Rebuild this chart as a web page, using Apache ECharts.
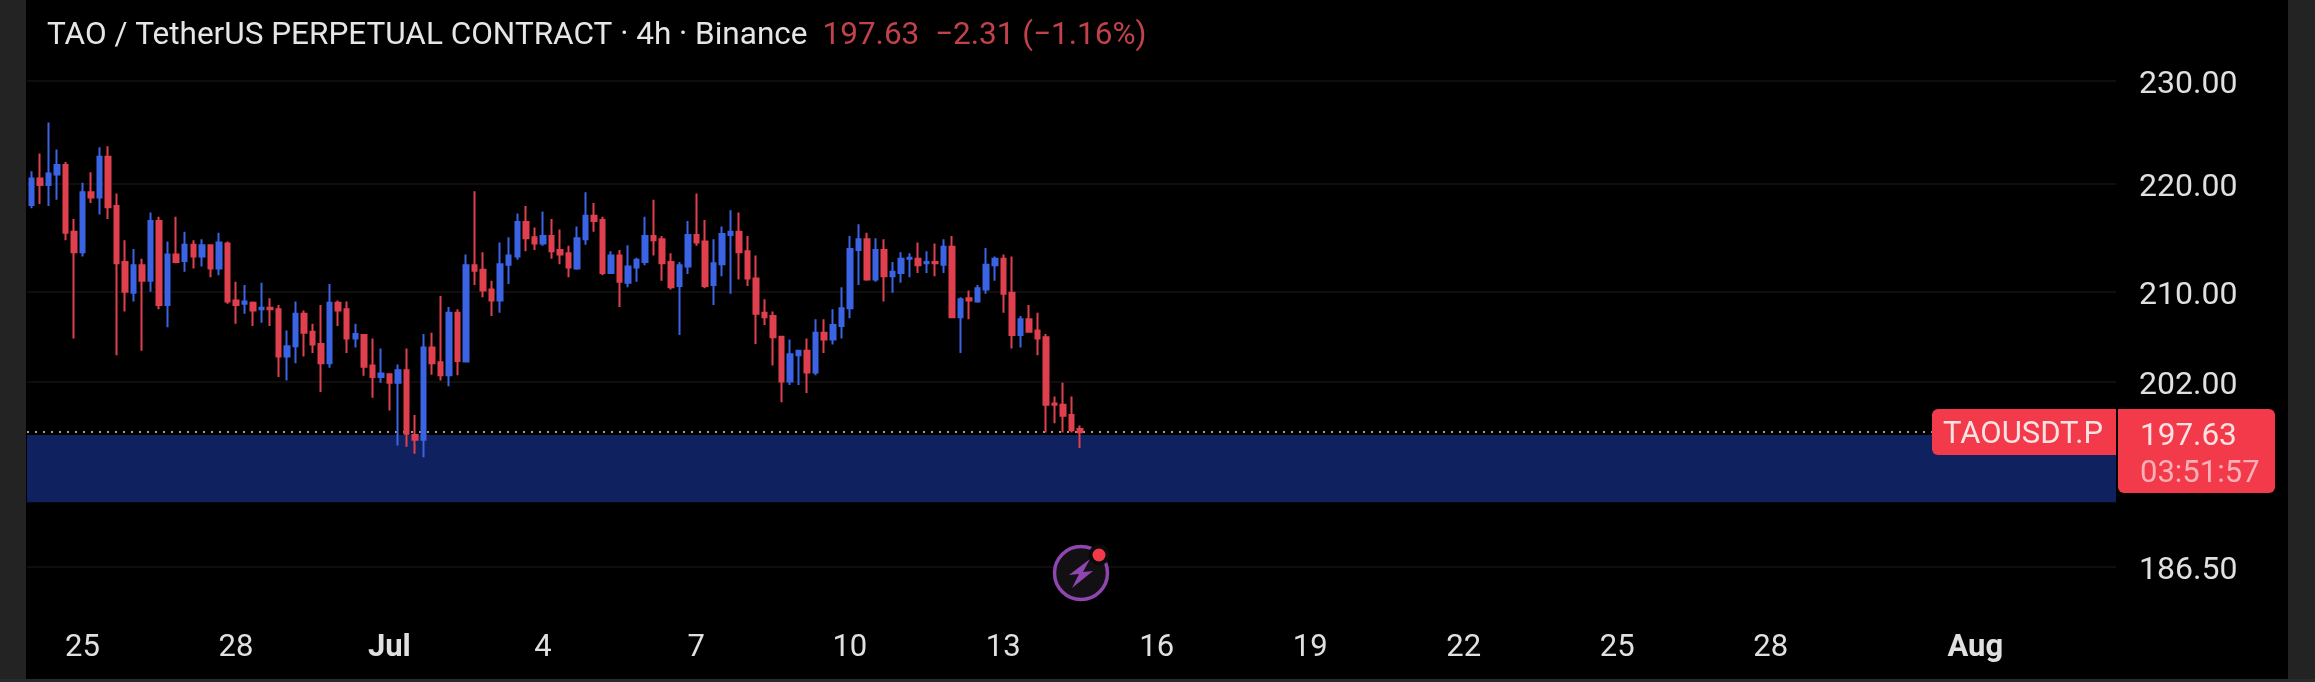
<!DOCTYPE html>
<html><head><meta charset="utf-8">
<style>html,body{margin:0;padding:0;background:#000}#c{width:2315px;height:682px}</style>
<script src="https://cdn.jsdelivr.net/npm/echarts@6/dist/echarts.min.js"></script>
</head><body><div id="c"></div>
<script>
// [open, close, low, high], one row per 4h candle, first row is 24 Jun 00:00
const candles = [
[218.0,220.5,217.7,221.2],[220.5,219.9,218.1,222.9],[219.9,221.0,217.9,225.9],[220.9,221.8,218.5,223.3],
[221.8,215.4,214.7,222.1],[215.5,213.6,205.8,216.7],[213.6,219.2,213.2,220.1],[219.2,218.7,218.2,221.1],
[218.7,222.6,217.1,223.5],[222.6,217.8,216.7,223.6],[217.9,212.6,204.3,219.1],[212.7,210.0,208.2,214.7],
[209.9,212.4,209.1,213.9],[212.4,211.0,204.7,213.0],[211.0,216.5,210.0,217.3],[216.5,208.8,208.4,216.9],
[208.8,213.4,206.8,214.6],[213.4,212.7,212.6,216.9],[212.8,214.3,211.8,215.5],[214.3,213.2,212.1,214.7],
[213.2,214.25,212.3,214.8],[214.25,212.1,211.3,214.3],[212.1,214.5,211.5,215.4],[214.4,209.1,208.9,214.6],
[209.2,208.8,207.1,210.9],[208.9,209.1,208.0,210.6],[209.0,208.3,206.9,209.1],[208.4,208.55,207.2,210.8],
[208.55,208.4,206.9,209.4],[208.4,204.2,202.4,208.8],[204.2,205.1,202.1,206.5],[205.1,208.0,203.6,209.1],
[208.0,206.3,204.2,208.3],[206.4,205.25,204.5,207.1],[205.3,203.6,201.1,208.8],[203.6,209.0,203.2,210.7],
[209.0,208.3,206.9,209.2],[208.4,205.8,204.5,209.1],[205.8,206.2,205.0,207.1],[206.1,203.3,202.5,206.2],
[203.4,202.4,200.6,205.8],[202.4,202.7,201.9,204.9],[202.65,201.9,199.5,202.7],[201.9,203.0,196.5,203.5],
[203.0,197.5,196.4,204.9],[197.4,197.0,195.8,199.1],[197.0,205.0,195.5,206.2],[205.0,203.6,202.6,206.3],
[203.7,202.55,202.1,209.6],[202.55,208.1,201.6,208.6],[208.1,203.8,202.55,208.4],[203.75,212.4,203.7,213.4],
[212.4,211.9,210.6,219.3],[212.0,210.1,209.5,213.6],[210.2,209.2,207.8,211.0],[209.2,212.5,208.1,214.5],
[212.45,213.3,210.7,215.0],[213.2,216.4,212.9,217.2],[216.4,214.9,213.7,217.9],[215.0,214.4,213.8,215.9],
[214.4,215.1,214.2,217.4],[215.1,213.7,213.0,216.7],[213.8,213.4,212.5,215.7],[213.5,212.2,211.3,214.2],
[212.1,214.9,212.0,216.0],[214.8,217.0,214.3,219.2],[217.0,216.5,215.5,218.2],[216.6,211.7,211.5,216.9],
[211.7,213.3,211.6,213.7],[213.3,210.9,208.6,213.8],[210.8,212.3,210.4,214.25],[212.2,212.9,210.9,213.1],
[212.7,215.1,212.4,216.9],[215.1,214.7,213.3,218.5],[214.8,212.6,211.0,215.1],[212.7,210.4,210.2,213.5],
[210.5,212.4,206.1,212.7],[212.3,215.2,211.6,216.5],[215.2,214.5,214.2,219.1],[214.6,210.5,210.3,216.6],
[210.6,212.6,208.8,214.8],[212.5,215.3,211.4,216.0],[215.2,215.5,209.8,217.5],[215.5,213.6,211.1,217.3],
[213.7,211.2,210.5,215.1],[211.2,208.0,205.3,213.3],[208.1,207.7,207.0,209.3],[207.8,205.9,203.4,208.2],
[205.95,202.0,200.2,206.0],[202.0,204.4,201.7,205.7],[204.3,204.7,201.7,204.8],[204.7,202.8,201.0,205.8],
[202.8,206.3,202.55,207.5],[206.3,205.7,204.5,207.5],[205.7,207.0,205.25,208.4],[206.9,208.5,205.8,210.4],
[208.5,213.9,207.6,215.1],[213.8,214.8,210.6,216.2],[214.8,211.1,211.0,215.4],[211.1,213.8,210.9,214.9],
[213.8,211.4,209.1,214.8],[211.4,211.8,209.9,212.7],[211.7,213.0,210.8,213.6],[213.0,213.1,211.3,213.5],
[213.0,212.4,211.7,214.5],[212.6,212.7,211.7,213.7],[212.7,212.6,211.4,214.4],[212.45,214.1,211.7,214.8],
[214.1,207.7,207.65,215.1],[207.7,209.3,204.5,209.5],[209.4,209.2,207.5,210.1],[209.1,210.3,209.0,210.6],
[210.2,212.45,209.8,214.0],[212.4,213.0,211.0,213.2],[213.0,209.8,208.1,213.4],[209.9,206.1,204.9,213.2],
[206.1,207.5,205.0,207.8],[207.5,206.4,206.4,208.8],[206.5,205.8,204.3,208.1],[205.9,200.0,197.6,206.2],
[200.1,200.0,198.4,200.7],[200.0,199.05,197.6,201.9],[199.1,197.8,197.6,200.7],[197.9,197.63,196.3,198.2]
];
const slotCount = 245;
const xTickSlots = [6,24,42,60,78,96,114,132,150,168,186,204,228];
const xTickLabels = ['25','28','Jul','4','7','10','13','16','19','22','25','28','Aug'];
const yGridValues = [186.5,194.5,202,210,220,230];
const yLabelValues = [186.5,202,210,220,230];
const lastPrice = 197.63;
const zoneTop = 197.4, zoneBottom = 191.75;
const yMin = 183.03, yMax = 234.1;

const categories = [];
for (let i = 0; i < slotCount; i++) {
  const k = xTickSlots.indexOf(i);
  categories.push(k >= 0 ? xTickLabels[k] : '');
}
const FONT = 'Roboto';
const RED = '#f23a4b';
const chart = echarts.init(document.getElementById('c'), null, {renderer:'canvas'});
chart.setOption({
  animation:false,
  backgroundColor:'#000',
  title:{
    left:42, top:15,
    text:'{w|TAO / TetherUS PERPETUAL CONTRACT · 4h · Binance}   {r|197.63  −2.31 (−1.16%)}',
    textStyle:{fontWeight:'normal',rich:{
      w:{fontFamily:FONT,fontSize:31.5,fontWeight:'normal',color:'#e6e6e6'},
      r:{fontFamily:FONT,fontSize:31.5,fontWeight:'normal',color:'#c2424c'}
    }}
  },
  grid:{left:27,top:40,width:2089,height:570,containLabel:false},
  xAxis:{
    type:'category',data:categories,boundaryGap:true,
    axisLine:{show:false},axisTick:{show:false},splitLine:{show:false},
    axisLabel:{
      interval:0,margin:23,fontFamily:FONT,fontSize:31,color:'#e0e0e0',
      formatter:v => (v==='Jul'||v==='Aug') ? '{b|'+v+'}' : v,
      rich:{b:{fontFamily:FONT,fontSize:31,fontWeight:'bold',color:'#e0e0e0'}}
    }
  },
  yAxis:{
    type:'log',logBase:10,position:'right',min:yMin,max:yMax,
    axisLine:{show:false},
    axisTick:{show:false,customValues:yGridValues},
    splitLine:{show:true,lineStyle:{color:'#100d0d',width:2}},
    minorTick:{show:false},minorSplitLine:{show:false},
    axisLabel:{
      customValues:yLabelValues,margin:23,
      formatter:v => '{a|'+Number(v).toFixed(2)+'}',
      rich:{a:{fontFamily:FONT,fontSize:32,color:'#e0e0e0',padding:[9,0,0,0]}}
    }
  },
  series:[{
    type:'candlestick',data:candles,barWidth:5,z:5,
    itemStyle:{color:'#3b64e4',color0:'#e0404e',borderColor:'#3b64e4',borderColor0:'#e0404e',borderWidth:2},
    markArea:{silent:true,z:1,itemStyle:{color:'rgba(17,35,100,0.95)'},
      data:[[{yAxis:zoneTop},{yAxis:zoneBottom}]]},
    markLine:{silent:true,symbol:'none',z:2,label:{show:false},
      lineStyle:{color:'#b09888',type:[2,6],width:2},
      data:[{yAxis:lastPrice}]}
  }],
  graphic:[
    {type:'rect',z:100,shape:{x:0,y:0,width:26,height:682},style:{fill:'#232323'},silent:true},
    {type:'rect',z:100,shape:{x:2288,y:0,width:27,height:682},style:{fill:'#232323'},silent:true},
    {type:'rect',z:100,shape:{x:0,y:679,width:2315,height:3},style:{fill:'#2a2a2a'},silent:true},
    {type:'rect',z:101,shape:{x:1932,y:409,width:184,height:46,r:[6,0,0,6]},style:{fill:RED},silent:true},
    {type:'text',z:102,x:2023,y:435,style:{text:'TAOUSDT.P',fontFamily:FONT,fontSize:31,fill:'#fbe3e3',align:'center',verticalAlign:'middle'},silent:true},
    {type:'rect',z:101,shape:{x:2118,y:409,width:157,height:84,r:[0,6,6,6]},style:{fill:RED},silent:true},
    {type:'text',z:102,x:2140,y:437,style:{text:'197.63',fontFamily:FONT,fontSize:31.5,fill:'#fbe3e3',align:'left',verticalAlign:'middle'},silent:true},
    {type:'text',z:102,x:2140,y:474,style:{text:'03:51:57',fontFamily:FONT,fontSize:31,fill:'#f9b0b6',align:'left',verticalAlign:'middle'},silent:true},
    {type:'circle',z:101,shape:{cx:1081,cy:573,r:26.5},style:{fill:'#131013',stroke:'#9046b0',lineWidth:3.5},silent:true},
    {type:'polygon',z:102,shape:{points:[[1090,559],[1069,575],[1079,574],[1072,588],[1093,571],[1083,572]]},style:{fill:'#9046b0'},silent:true},
    {type:'circle',z:103,shape:{cx:1099,cy:555,r:10.5},style:{fill:'#0a0a0a'},silent:true},
    {type:'circle',z:104,shape:{cx:1099,cy:555,r:6.5},style:{fill:'#f23a4b'},silent:true}
  ]
});
</script></body></html>
